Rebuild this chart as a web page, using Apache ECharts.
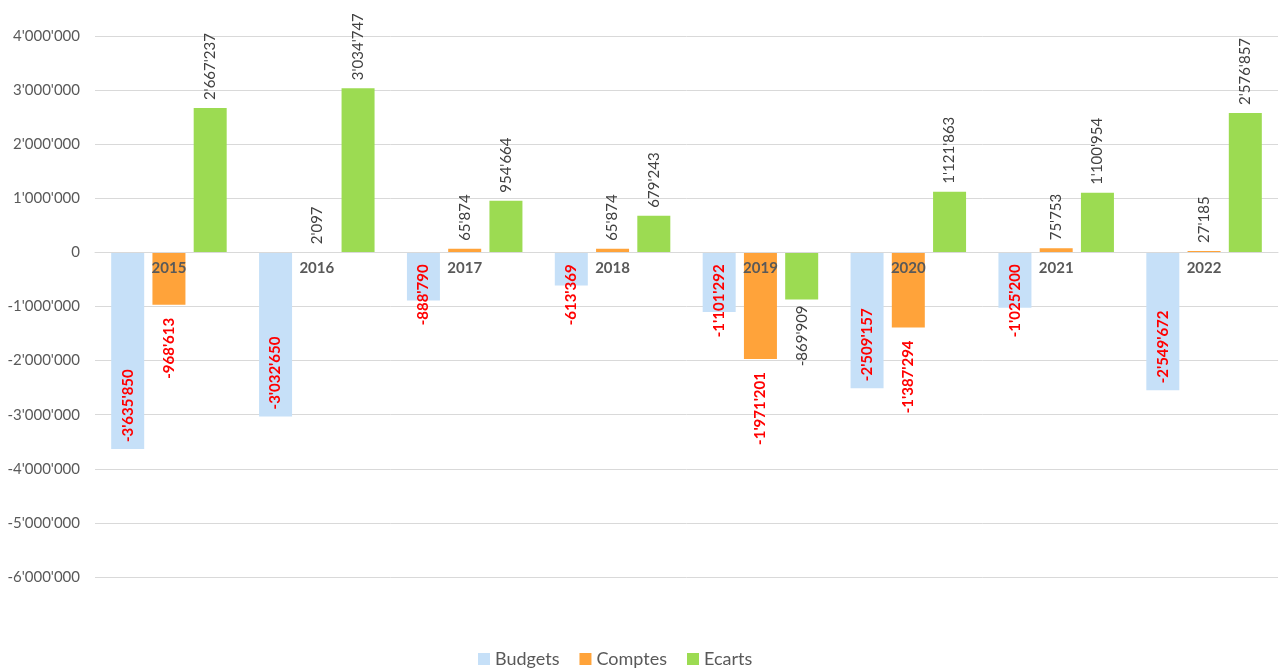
<!DOCTYPE html>
<html>
<head>
<meta charset="utf-8">
<title>Budgets, Comptes, Ecarts</title>
<script src="https://cdn.jsdelivr.net/npm/echarts@6/dist/echarts.min.js"></script>
<style>
  html, body { margin: 0; padding: 0; background: #ffffff; }
  #chart { width: 1285px; height: 671px; }
</style>
</head>
<body>
<div id="chart"></div>
<script>
// Years shown on the category axis
const years = ['2015', '2016', '2017', '2018', '2019', '2020', '2021', '2022'];

// Series values
const budgets = [-3635850, -3032650, -888790, -613369, -1101292, -2509157, -1025200, -2549672];
const comptes = [-968613, 2097, 65874, 65874, -1971201, -1387294, 75753, 27185];
const ecarts  = [2667237, 3034747, 954664, 679243, -869909, 1121863, 1100954, 2576857];

// Value axis range
const yMin = -6000000;
const yMax = 4000000;
const yStep = 1000000;

const FONT = 'Lato, "Open Sans", sans-serif';
const GREY = '#595959';
const DARK = '#404040';
const RED = '#FF0000';

const WIDTH = 1285, HEIGHT = 671;
const GRID = { left: 95, right: 7, top: 36, bottom: 94 };

// Swiss-style thousands separator: 1'234'567
function fmt(v) {
  const s = String(Math.abs(Math.round(v))).replace(/\B(?=(\d{3})+(?!\d))/g, "'");
  return (v < 0 ? '-' : '') + s;
}

// Rotated value label for one bar, placed by series kind and sign
function labelFor(kind, v) {
  const base = {
    show: true, rotate: 90, fontFamily: FONT, fontSize: 15,
    verticalAlign: 'middle', formatter: p => fmt(p.value)
  };
  if (v >= 0) {
    return Object.assign(base, { position: 'top', distance: 8, align: 'left', color: DARK });
  }
  if (kind === 'budgets') {
    // long bars hold the label at their far end, short ones let it hang from the axis
    if (-v > 1500000) {
      return Object.assign(base, { position: 'insideBottom', distance: 7, align: 'left', color: RED, fontWeight: 'bold' });
    }
    return Object.assign(base, { position: 'insideTop', distance: 12, align: 'right', color: RED, fontWeight: 'bold' });
  }
  if (kind === 'comptes') {
    return Object.assign(base, { position: 'bottom', distance: 13, align: 'right', color: RED, fontWeight: 'bold' });
  }
  return Object.assign(base, { position: 'bottom', distance: 6, align: 'right', color: DARK });
}

function items(kind, values) {
  return values.map(v => ({ value: v, label: labelFor(kind, v) }));
}

// The year labels sit on the zero line: lift the category axis from the grid bottom to it
const plotHeight = HEIGHT - GRID.top - GRID.bottom;
const zeroLift = plotHeight * (0 - yMin) / (yMax - yMin);

const chart = echarts.init(document.getElementById('chart'), null, { renderer: 'canvas' });

chart.setOption({
  animation: false,
  backgroundColor: '#ffffff',
  color: ['#C6E0F8', '#FFA33A', '#9CDB52'],
  textStyle: { fontFamily: FONT },
  grid: Object.assign({ containLabel: false }, GRID),
  legend: {
    data: ['Budgets', 'Comptes', 'Ecarts'],
    left: 478, bottom: 3, padding: 0,
    icon: 'rect', itemWidth: 12, itemHeight: 12, itemGap: 20,
    textStyle: { color: GREY, fontSize: 18, fontFamily: FONT }
  },
  xAxis: {
    type: 'category',
    data: years,
    position: 'bottom',
    offset: -zeroLift,
    z: 10,
    axisLine: { onZero: false, lineStyle: { color: '#d9d9d9', width: 1 } },
    axisTick: { show: false },
    axisLabel: { color: GREY, fontSize: 15, fontWeight: 'bold', fontFamily: FONT, margin: 8 }
  },
  yAxis: {
    type: 'value',
    min: yMin, max: yMax, interval: yStep,
    axisLine: { show: false },
    axisTick: { show: false },
    splitLine: { lineStyle: { color: '#d9d9d9', width: 1 } },
    axisLabel: { color: GREY, fontSize: 15, fontFamily: FONT, margin: 15, formatter: fmt }
  },
  series: [
    { name: 'Budgets', type: 'bar', barWidth: 33, barGap: '25%', data: items('budgets', budgets) },
    { name: 'Comptes', type: 'bar', barWidth: 33, barGap: '25%', data: items('comptes', comptes) },
    { name: 'Ecarts',  type: 'bar', barWidth: 33, barGap: '25%', data: items('ecarts', ecarts) }
  ]
});
</script>
</body>
</html>
